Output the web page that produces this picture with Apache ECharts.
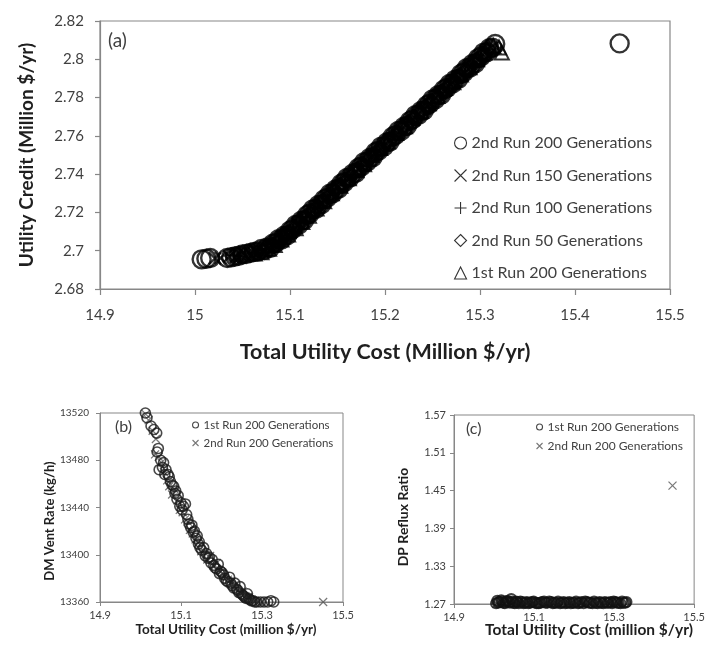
<!DOCTYPE html>
<html>
<head>
<meta charset="utf-8">
<title>Pareto fronts: utility cost vs. credit</title>
<script src="https://cdn.jsdelivr.net/npm/echarts@6/dist/echarts.min.js"></script>
<style>
  html, body { margin: 0; padding: 0; background: #fff; }
  #top { position: absolute; left: 0; top: 0; width: 708px; height: 380px; }
  #bottom { position: absolute; left: 0; top: 380px; width: 708px; height: 266px; filter: blur(0.5px); }
</style>
</head>
<body>
<div id="top"></div>
<div id="bottom"></div>
<script>
// ---------- tick values ----------
const costTicksA   = [14.9, 15, 15.1, 15.2, 15.3, 15.4, 15.5];
const creditTicks  = [2.68, 2.7, 2.72, 2.74, 2.76, 2.78, 2.8, 2.82];
const costTicksBC  = [14.9, 15.1, 15.3, 15.5];
const ventTicks    = [13360, 13400, 13440, 13480, 13520];
const refluxTicks  = [1.27, 1.33, 1.39, 1.45, 1.51, 1.57];

// ---------- series names ----------
const namesA = ['2nd Run 200 Generations', '2nd Run 150 Generations', '2nd Run 100 Generations',
                '2nd Run 50 Generations', '1st Run 200 Generations'];
const namesBC = ['1st Run 200 Generations', '2nd Run 200 Generations'];

// ---------- (a) total utility cost vs. utility credit, [cost, credit] ----------
const run2Gen200 = [[15.007,2.6955],[15.012,2.6958],[15.016,2.6962],[15.034,2.6962],[15.038,2.6966],[15.042,2.6970],
  [15.046,2.6974],[15.050,2.6981],[15.054,2.6983],[15.058,2.6988],[15.062,2.6993],[15.066,2.6996],
  [15.070,2.7009],[15.073,2.7003],[15.076,2.7017],[15.079,2.7014],[15.082,2.7036],[15.085,2.7041],
  [15.088,2.7060],[15.091,2.7059],[15.094,2.7078],[15.097,2.7080],[15.100,2.7104],[15.103,2.7113],
  [15.106,2.7134],[15.109,2.7136],[15.112,2.7157],[15.115,2.7160],[15.118,2.7186],[15.121,2.7195],
  [15.124,2.7216],[15.127,2.7218],[15.130,2.7239],[15.133,2.7242],[15.136,2.7268],[15.139,2.7276],
  [15.142,2.7298],[15.145,2.7300],[15.148,2.7320],[15.151,2.7324],[15.154,2.7350],[15.157,2.7358],
  [15.160,2.7380],[15.163,2.7382],[15.166,2.7402],[15.169,2.7406],[15.172,2.7432],[15.175,2.7440],
  [15.178,2.7462],[15.181,2.7464],[15.184,2.7484],[15.187,2.7488],[15.190,2.7514],[15.193,2.7522],
  [15.196,2.7544],[15.199,2.7545],[15.202,2.7566],[15.205,2.7570],[15.208,2.7595],[15.211,2.7604],
  [15.214,2.7626],[15.217,2.7627],[15.220,2.7648],[15.223,2.7652],[15.226,2.7677],[15.229,2.7686],
  [15.232,2.7708],[15.235,2.7709],[15.238,2.7730],[15.241,2.7734],[15.244,2.7759],[15.247,2.7768],
  [15.250,2.7790],[15.253,2.7791],[15.256,2.7812],[15.259,2.7815],[15.262,2.7841],[15.265,2.7850],
  [15.268,2.7871],[15.271,2.7873],[15.274,2.7894],[15.277,2.7897],[15.280,2.7923],[15.283,2.7932],
  [15.286,2.7953],[15.289,2.7955],[15.292,2.7976],[15.295,2.7979],[15.298,2.8005],[15.301,2.8014],
  [15.304,2.8035],[15.307,2.8037],[15.310,2.8058],[15.313,2.8061],[15.316,2.8080],[15.447,2.8083]];
const run2Gen150 = [[15.021,2.6960],[15.027,2.6962],[15.036,2.6970],[15.043,2.6968],[15.051,2.6985],[15.058,2.6984],
  [15.064,2.6998],[15.071,2.6999],[15.079,2.7026],[15.086,2.7040],[15.092,2.7072],[15.101,2.7095],[15.108,2.7140],
  [15.114,2.7155],[15.123,2.7208],[15.131,2.7232],[15.139,2.7280],[15.146,2.7305],[15.155,2.7353],[15.163,2.7380],
  [15.172,2.7428],[15.180,2.7455],[15.188,2.7503],[15.196,2.7530],[15.205,2.7580],[15.213,2.7606],[15.222,2.7657],
  [15.230,2.7682],[15.239,2.7732],[15.247,2.7765],[15.256,2.7812],[15.264,2.7838],[15.273,2.7888],[15.281,2.7915],
  [15.290,2.7960],[15.298,2.7993],[15.306,2.8040],[15.312,2.8060]];
const run2Gen100 = [[15.041,2.6975],[15.047,2.6971],[15.053,2.6986],[15.062,2.6986],[15.069,2.7003],[15.075,2.7008],
  [15.082,2.7035],[15.089,2.7050],[15.096,2.7090],[15.103,2.7105],[15.112,2.7157],[15.118,2.7175],[15.126,2.7222],
  [15.135,2.7250],[15.142,2.7292],[15.151,2.7323],[15.158,2.7368],[15.167,2.7395],[15.175,2.7443],[15.183,2.7468],
  [15.191,2.7518],[15.199,2.7545],[15.208,2.7597],[15.216,2.7622],[15.224,2.7672],[15.233,2.7700],[15.241,2.7745],
  [15.250,2.7772],[15.258,2.7825],[15.267,2.7850],[15.275,2.7900],[15.284,2.7925],[15.293,2.7975],[15.301,2.8005],
  [15.309,2.8050]];
const run2Gen50 = [[15.040,2.6972],[15.046,2.6978],[15.052,2.6978],[15.058,2.6990],[15.064,2.6991],
  [15.0715,2.6999],[15.0745,2.7018],[15.0775,2.7016],[15.0805,2.7032],[15.0835,2.7028],[15.0865,2.7050],
  [15.0895,2.7052],[15.0925,2.7078],[15.0955,2.7080],[15.0985,2.7099],[15.1015,2.7098],[15.1045,2.7123],
  [15.1075,2.7128],[15.1105,2.7156],[15.1135,2.7159],[15.1165,2.7180],[15.1195,2.7180],[15.1225,2.7205],
  [15.1255,2.7210],[15.1285,2.7238],[15.1315,2.7241],[15.1345,2.7262],[15.1375,2.7262],[15.1405,2.7287],
  [15.1435,2.7292],[15.1465,2.7320],[15.1495,2.7323],[15.1525,2.7344],[15.1555,2.7344],[15.1585,2.7369],
  [15.1615,2.7374],[15.1645,2.7401],[15.1675,2.7405],[15.1705,2.7426],[15.1735,2.7425],[15.1765,2.7451],
  [15.1795,2.7456],[15.1825,2.7483],[15.1855,2.7487],[15.1885,2.7508],[15.1915,2.7507],[15.1945,2.7533],
  [15.1975,2.7538],[15.2005,2.7565],[15.2035,2.7569],[15.2065,2.7590],[15.2095,2.7589],[15.2125,2.7615],
  [15.2155,2.7620],[15.2185,2.7647],[15.2215,2.7651],[15.2245,2.7671],[15.2275,2.7671],[15.2305,2.7697],
  [15.2335,2.7701],[15.2365,2.7729],[15.2395,2.7733],[15.2425,2.7753],[15.2455,2.7753],[15.2485,2.7779],
  [15.2515,2.7783],[15.2545,2.7811],[15.2575,2.7815],[15.2605,2.7835],[15.2635,2.7835],[15.2665,2.7860],
  [15.2695,2.7865],[15.2725,2.7893],[15.2755,2.7896],[15.2785,2.7917],[15.2815,2.7917],[15.2845,2.7942],
  [15.2875,2.7947],[15.2905,2.7975],[15.2935,2.7978],[15.2965,2.7999],[15.2995,2.7999],[15.3025,2.8024],
  [15.3055,2.8029],[15.3085,2.8057],[15.3115,2.8060]];
const run1Gen200 = [[15.063,2.6985],[15.070,2.6992],[15.078,2.7010],[15.084,2.7030],[15.091,2.7058],[15.098,2.7085],
  [15.106,2.7118],[15.113,2.7150],[15.120,2.7182],[15.128,2.7220],[15.136,2.7258],[15.144,2.7300],[15.153,2.7340],
  [15.162,2.7378],[15.170,2.7420],[15.178,2.7452],[15.186,2.7500],[15.195,2.7536],[15.203,2.7570],[15.212,2.7615],
  [15.221,2.7650],[15.229,2.7695],[15.238,2.7730],[15.246,2.7770],[15.255,2.7808],[15.263,2.7850],[15.272,2.7880],
  [15.280,2.7920],[15.289,2.7958],[15.297,2.8000],[15.305,2.8035],[15.314,2.8070],[15.320,2.8062],[15.323,2.8035]];

// ---------- (b) total utility cost vs. DM vent rate, [cost, kg/h] ----------
const vent1st = [[15.012,13520],[15.016,13516],[15.026,13509],[15.033,13506],[15.040,13503],[15.044,13490],
  [15.041,13487],[15.046,13472],[15.050,13480],[15.054,13474],[15.057,13478],[15.060,13468],[15.063,13472],
  [15.068,13468],[15.071,13466],[15.074,13462],[15.078,13459],[15.082,13458],[15.085,13452],[15.087,13454],
  [15.090,13447],[15.093,13450],[15.097,13441],[15.100,13444],[15.103,13438],[15.106,13441],[15.111,13443],
  [15.114,13434],[15.117,13430],[15.120,13426],[15.124,13423],[15.127,13425],[15.130,13419],[15.133,13420],
  [15.137,13414],[15.140,13416],[15.143,13409],[15.145,13411],[15.147,13406],[15.151,13404],[15.156,13406],
  [15.160,13399],[15.163,13401],[15.167,13397],[15.170,13398],[15.174,13393],[15.177,13396],[15.181,13391],
  [15.184,13389],[15.188,13388],[15.192,13392],[15.195,13384],[15.198,13386],[15.201,13385],[15.205,13383],
  [15.208,13380],[15.212,13378],[15.216,13377],[15.220,13381],[15.223,13376],[15.226,13374],[15.230,13372],
  [15.233,13376],[15.237,13371],[15.240,13370],[15.243,13368],[15.246,13373],[15.249,13367],[15.252,13366],
  [15.255,13365],[15.258,13364],[15.261,13363],[15.264,13367],[15.267,13363],[15.270,13362],[15.274,13361],
  [15.278,13361],[15.282,13360],[15.287,13360],[15.296,13360],[15.305,13360],[15.314,13360],[15.322,13361],
  [15.329,13360]];
const vent2nd = [[15.013,13519],[15.020,13514],[15.030,13505],[15.038,13498],[15.036,13485],[15.045,13483],
  [15.052,13478],[15.058,13470],[15.066,13463],[15.071,13458],[15.078,13451],[15.085,13455],[15.091,13446],
  [15.097,13438],[15.104,13436],[15.110,13430],[15.117,13428],[15.122,13421],[15.129,13418],[15.136,13413],
  [15.142,13410],[15.150,13403],[15.158,13402],[15.165,13396],[15.172,13399],[15.180,13391],[15.188,13393],
  [15.195,13387],[15.201,13384],[15.209,13382],[15.216,13379],[15.224,13377],[15.231,13373],[15.238,13371],
  [15.245,13368],[15.252,13369],[15.259,13365],[15.266,13364],[15.274,13362],[15.282,13361],[15.291,13360],
  [15.300,13360],[15.451,13360]];

// ---------- (c) total utility cost vs. DP reflux ratio, [cost, ratio] ----------
const reflux1st = [[15.005,1.271],[15.008,1.275],[15.010,1.272],[15.013,1.273],[15.018,1.276],[15.021,1.274],
  [15.024,1.272],[15.027,1.271],[15.030,1.274],[15.034,1.275],[15.037,1.273],[15.040,1.272],[15.043,1.278],
  [15.046,1.274],[15.049,1.272],[15.052,1.271],[15.055,1.274],[15.058,1.273],[15.062,1.271],[15.066,1.274],
  [15.070,1.273],[15.074,1.271],[15.078,1.272],[15.082,1.273],[15.086,1.271],[15.090,1.272],[15.095,1.273],
  [15.099,1.274],[15.103,1.272],[15.107,1.271],[15.112,1.271],[15.116,1.272],[15.120,1.273],[15.125,1.274],
  [15.129,1.272],[15.133,1.272],[15.138,1.274],[15.143,1.273],[15.147,1.271],[15.151,1.272],[15.156,1.272],
  [15.160,1.274],[15.165,1.271],[15.169,1.272],[15.174,1.273],[15.178,1.271],[15.183,1.272],[15.188,1.273],
  [15.192,1.271],[15.197,1.272],[15.201,1.272],[15.205,1.274],[15.210,1.271],[15.214,1.272],[15.219,1.273],
  [15.224,1.271],[15.228,1.274],[15.232,1.273],[15.237,1.272],[15.241,1.272],[15.246,1.271],[15.250,1.274],
  [15.255,1.272],[15.259,1.271],[15.264,1.273],[15.268,1.272],[15.273,1.271],[15.277,1.273],[15.282,1.272],
  [15.286,1.272],[15.291,1.273],[15.295,1.271],[15.299,1.274],[15.303,1.273],[15.307,1.272],[15.311,1.272],
  [15.316,1.271],[15.320,1.274],[15.324,1.272],[15.328,1.272],[15.331,1.273]];
const reflux2nd = [[15.006,1.270],[15.015,1.271],[15.026,1.270],[15.039,1.272],[15.052,1.270],[15.066,1.271],
  [15.081,1.270],[15.097,1.271],[15.110,1.272],[15.125,1.270],[15.141,1.271],[15.158,1.270],[15.172,1.271],
  [15.189,1.270],[15.205,1.271],[15.221,1.270],[15.238,1.271],[15.254,1.270],[15.270,1.271],[15.287,1.270],
  [15.300,1.271],[15.446,1.458]];

// ---------- shared styling ----------
const FONT = 'Lato, "Open Sans", sans-serif';
const AXIS_GRAY = '#878787';
const LABEL = '#404040';
const TITLE = '#1f1f1f';
const CROSS = 'path://M0,0L10,10M10,0L0,10';
const PLUS  = 'path://M5,0L5,10M0,5L10,5';

function valueAxis(opts) {
  return {
    type: 'value',
    gridIndex: opts.grid || 0,
    min: opts.min, max: opts.max,
    splitLine: { show: false },
    axisLine: { show: true, onZero: false, lineStyle: { color: AXIS_GRAY, width: opts.lw || 1.2 } },
    axisTick: { show: true, inside: false, length: opts.tickLen || 5, customValues: opts.ticks,
                lineStyle: { color: AXIS_GRAY, width: opts.lw || 1.2 } },
    axisLabel: { customValues: opts.ticks, color: LABEL, fontFamily: FONT, fontSize: opts.fontSize,
                 margin: opts.margin || 8, formatter: v => String(v) },
    name: opts.name || '', nameLocation: 'middle', nameGap: opts.nameGap || 30,
    nameTextStyle: { color: TITLE, fontFamily: FONT, fontWeight: 'bold', fontSize: opts.nameSize || 14 }
  };
}

function scatter(name, data, symbol, size, color, width, xi, yi) {
  return {
    type: 'scatter', name: name, data: data,
    xAxisIndex: xi || 0, yAxisIndex: yi || 0,
    symbol: symbol, symbolSize: size,
    itemStyle: { color: 'rgba(0,0,0,0)', borderColor: color, borderWidth: width },
    emphasis: { disabled: true },
    clip: false
  };
}

// ---------- (a) ----------
const topChart = echarts.init(document.getElementById('top'), null, { renderer: 'canvas' });
topChart.setOption({
  animation: false,
  backgroundColor: '#fff',
  grid: { left: 100, top: 21, width: 570, height: 268, show: true, borderColor: AXIS_GRAY, borderWidth: 1.2,
          backgroundColor: 'transparent' },
  xAxis: valueAxis({ min: 14.9, max: 15.5, ticks: costTicksA, fontSize: 15, margin: 19, tickLen: 6,
                     name: 'Total Utility Cost (Million $/yr)', nameGap: 52, nameSize: 21.5 }),
  yAxis: valueAxis({ min: 2.68, max: 2.82, ticks: creditTicks, fontSize: 15, margin: 16, tickLen: 5,
                     name: 'Utility Credit (Million $/yr)', nameGap: 64, nameSize: 19 }),
  legend: {
    orient: 'vertical', left: 454, top: 135, padding: 0,
    itemWidth: 12, itemHeight: 12, itemGap: 16.5,
    itemStyle: { borderWidth: 1.1 },
    textStyle: { color: LABEL, fontFamily: FONT, fontSize: 16, lineHeight: 14 },
    data: namesA
  },
  graphic: [
    { type: 'text', left: 108, top: 31, style: { text: '(a)', fill: LABEL, font: '19px ' + FONT } }
  ],
  series: [
    scatter(namesA[1], run2Gen150, CROSS, 12, '#000', 2.2),
    scatter(namesA[2], run2Gen100, PLUS, 13, '#000', 2.2),
    scatter(namesA[3], run2Gen50, 'diamond', 15, '#000', 2.4),
    scatter(namesA[4], run1Gen200, 'triangle', 14, '#000', 2.0),
    scatter(namesA[0], run2Gen200, 'circle', 18, '#000', 2.4)
  ]
});

// ---------- (b) and (c) ----------
const bottomChart = echarts.init(document.getElementById('bottom'), null, { renderer: 'canvas' });
bottomChart.setOption({
  animation: false,
  backgroundColor: '#fff',
  grid: [
    { left: 100, top: 33, width: 243, height: 189, show: true, borderColor: AXIS_GRAY, borderWidth: 1,
      backgroundColor: 'transparent' },
    { left: 454, top: 35, width: 241, height: 189, show: true, borderColor: AXIS_GRAY, borderWidth: 1,
      backgroundColor: 'transparent' }
  ],
  xAxis: [
    valueAxis({ grid: 0, min: 14.9, max: 15.5, ticks: costTicksBC, fontSize: 11, margin: 8, tickLen: 4, lw: 1 }),
    valueAxis({ grid: 1, min: 14.9, max: 15.5, ticks: costTicksBC, fontSize: 11, margin: 8, tickLen: 4, lw: 1 })
  ],
  yAxis: [
    valueAxis({ grid: 0, min: 13360, max: 13520, ticks: ventTicks, fontSize: 10, margin: 11, tickLen: 4, lw: 1 }),
    valueAxis({ grid: 1, min: 1.27, max: 1.57, ticks: refluxTicks, fontSize: 11, margin: 8, tickLen: 4, lw: 1 })
  ],
  legend: [
    { orient: 'vertical', left: 192, top: 39, padding: 0, itemWidth: 6, itemHeight: 6, itemGap: 6,
      itemStyle: { borderWidth: 1.1 },
      textStyle: { color: LABEL, fontFamily: FONT, fontSize: 11.5, lineHeight: 12 }, data: namesBC },
    { orient: 'vertical', left: 536, top: 41, padding: 0, itemWidth: 6, itemHeight: 6, itemGap: 7,
      itemStyle: { borderWidth: 1.1 },
      textStyle: { color: LABEL, fontFamily: FONT, fontSize: 12, lineHeight: 12 }, data: namesBC }
  ],
  graphic: [
    { type: 'text', left: 115, top: 39, style: { text: '(b)', fill: LABEL, font: '16px ' + FONT } },
    { type: 'text', left: 466, top: 41, style: { text: '(c)', fill: LABEL, font: '16px ' + FONT } },
    { type: 'text', x: 50, y: 141, rotation: Math.PI / 2,
      style: { text: 'DM Vent Rate (kg/h)', fill: TITLE, font: 'bold 13px ' + FONT, align: 'center', verticalAlign: 'middle' } },
    { type: 'text', x: 226, y: 250,
      style: { text: 'Total Utility Cost (million $/yr)', fill: TITLE, font: 'bold 13.5px ' + FONT, align: 'center', verticalAlign: 'middle' } },
    { type: 'text', x: 403, y: 137, rotation: Math.PI / 2,
      style: { text: 'DP Reflux Ratio', fill: TITLE, font: 'bold 14px ' + FONT, align: 'center', verticalAlign: 'middle' } },
    { type: 'text', x: 589, y: 250,
      style: { text: 'Total Utility Cost (million $/yr)', fill: TITLE, font: 'bold 15.5px ' + FONT, align: 'center', verticalAlign: 'middle' } }
  ],
  series: [
    scatter(namesBC[1], vent2nd, CROSS, 8, '#555', 1.2, 0, 0),
    scatter(namesBC[0], vent1st, 'circle', 10, '#1a1a1a', 1.6, 0, 0),
    scatter(namesBC[1], reflux2nd, CROSS, 8, '#555', 1.2, 1, 1),
    scatter(namesBC[0], reflux1st, 'circle', 10, '#111', 2.0, 1, 1)
  ]
});
</script>
</body>
</html>
